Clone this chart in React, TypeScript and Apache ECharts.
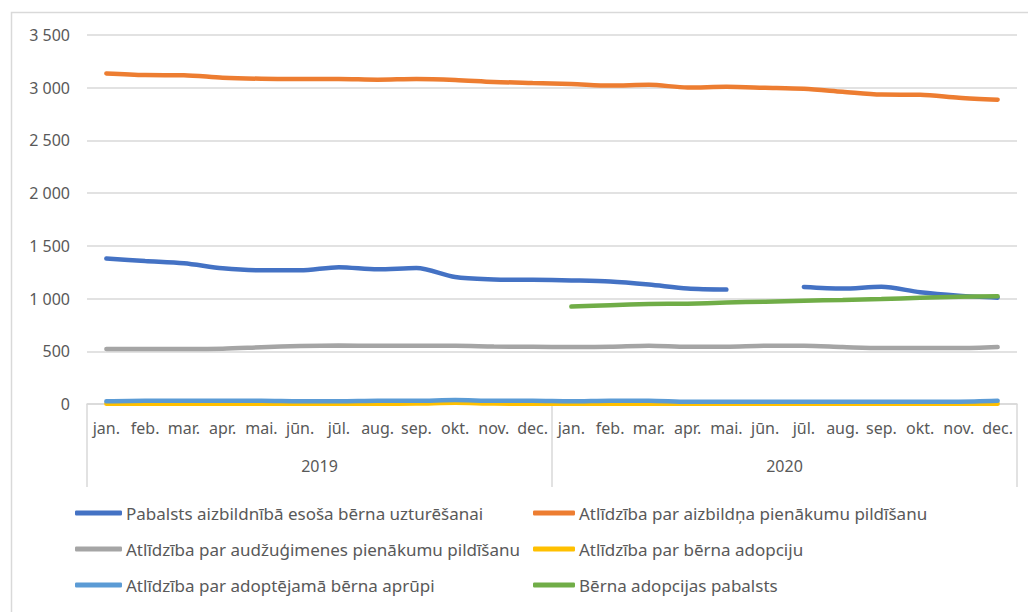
import React, { useEffect, useRef } from "react";
import * as echarts from "echarts";

const months = ["jan.", "feb.", "mar.", "apr.", "mai.", "jūn.", "jūl.", "aug.", "sep.", "okt.", "nov.", "dec."];
const monthLabels = [...months, ...months];
const years = ["2019", "2020"];
const yTicks = { min: 0, max: 3500, interval: 500 };

const nameBlue = "Pabalsts aizbildnībā esoša bērna uzturēšanai";
const nameOrange = "Atlīdzība par aizbildņa pienākumu pildīšanu";
const nameGray = "Atlīdzība par audžuģimenes pienākumu pildīšanu";
const nameYellow = "Atlīdzība par bērna adopciju";
const nameLightBlue = "Atlīdzība par adoptējamā bērna aprūpi";
const nameGreen = "Bērna adopcijas pabalsts";

const pabalsts = [1380, 1356, 1335, 1287, 1268, 1268, 1298, 1277, 1290, 1204, 1182, 1178, 1172, 1162, 1133, 1095, 1085, null, 1110, 1095, 1112, 1060, 1028, 1008];
const aizbildnis = [3135, 3120, 3118, 3095, 3085, 3083, 3083, 3076, 3083, 3074, 3055, 3045, 3036, 3020, 3028, 3002, 3009, 3000, 2990, 2962, 2935, 2933, 2905, 2886];
const audzugimene = [522, 522, 522, 524, 538, 550, 555, 552, 552, 552, 545, 542, 540, 542, 553, 543, 543, 552, 552, 540, 530, 530, 530, 540];
const adopcija = [2, 2, 2, 2, 2, 2, 2, 3, 4, 12, 4, 3, 2, 2, 2, 2, 2, 2, 2, 2, 2, 2, 2, 3];
const aprupe = [25, 30, 30, 30, 30, 25, 25, 30, 30, 38, 30, 30, 25, 32, 32, 22, 22, 22, 22, 22, 22, 22, 22, 30];
const adopcijasPabalsts = [null, null, null, null, null, null, null, null, null, null, null, null, 924, 937, 948, 952, 962, 971, 980, 986, 995, 1008, 1018, 1022];

const FONT = "'Noto Sans', sans-serif";
const TXT = "#595959";

export default function App() {
  const ref = useRef<HTMLDivElement>(null);
  useEffect(() => {
    if (!ref.current) return;
    const chart = echarts.init(ref.current, null, { renderer: "svg" });
    const mk = (name: string, data: any[], color: string) => ({
      name,
      type: "line",
      data,
      smooth: 0.3,
      showSymbol: false,
      symbol: "none",
      lineStyle: { color, width: 4.5, cap: "round" },
      itemStyle: { color },
      connectNulls: false,
    });
    const legendText = { color: TXT, fontSize: 17, fontFamily: FONT, lineHeight: 20, padding: [0, 0, 0, -1] };
    chart.setOption({
      animation: false,
      textStyle: { fontFamily: FONT },
      graphic: [
        {
          type: "rect",
          left: 9,
          top: 10,
          shape: { width: 1040, height: 640 },
          style: { fill: "none", stroke: "#d9d9d9", lineWidth: 1.5 },
          z: -10,
          silent: true,
        },
      ],
      grid: { left: 87, right: 11, top: 35, bottom: 208, containLabel: false },
      xAxis: [
        {
          type: "category",
          data: monthLabels,
          boundaryGap: true,
          axisLine: { show: true, lineStyle: { color: "#d9d9d9", width: 1.5 } },
          axisTick: { show: false },
          axisLabel: { interval: 0, margin: 16, color: TXT, fontSize: 16, fontFamily: FONT },
        },
        {
          type: "category",
          data: years,
          position: "bottom",
          boundaryGap: true,
          axisLine: { show: false },
          axisTick: { show: true, length: 83, alignWithLabel: false, lineStyle: { color: "#d9d9d9", width: 1.5 } },
          axisLabel: { interval: 0, margin: 54, color: TXT, fontSize: 16, fontFamily: FONT },
          splitLine: { show: false },
        },
      ],
      yAxis: {
        type: "value",
        min: yTicks.min,
        max: yTicks.max,
        interval: yTicks.interval,
        axisLine: { show: false },
        axisTick: { show: false },
        splitLine: { lineStyle: { color: "#d9d9d9", width: 1.5 } },
        axisLabel: {
          margin: 17,
          color: TXT,
          fontSize: 16,
          fontFamily: FONT,
          formatter: (v: number) => String(v).replace(/\B(?=(\d{3})+(?!\d))/g, " "),
        },
      },
      legend: [
        {
          orient: "vertical",
          left: 75,
          top: 503,
          padding: 0,
          itemWidth: 47,
          itemHeight: 5,
          itemGap: 16,
          icon: "roundRect",
          data: [nameBlue, nameGray, nameLightBlue],
          textStyle: legendText,
        },
        {
          orient: "vertical",
          left: 533,
          top: 503,
          padding: 0,
          itemWidth: 42,
          itemHeight: 5,
          itemGap: 16,
          icon: "roundRect",
          data: [nameOrange, nameYellow, nameGreen],
          textStyle: legendText,
        },
      ],
      series: [
        mk(nameBlue, pabalsts, "#4472C4"),
        mk(nameOrange, aizbildnis, "#ED7D31"),
        mk(nameGray, audzugimene, "#A5A5A5"),
        mk(nameYellow, adopcija, "#FFC000"),
        mk(nameLightBlue, aprupe, "#5B9BD5"),
        mk(nameGreen, adopcijasPabalsts, "#70AD47"),
      ],
    });
    return () => chart.dispose();
  }, []);
  return (
    <div
      ref={ref}
      style={{ position: "fixed", left: 0, top: 0, width: 1028, height: 612, background: "#fff" }}
    />
  );
}
